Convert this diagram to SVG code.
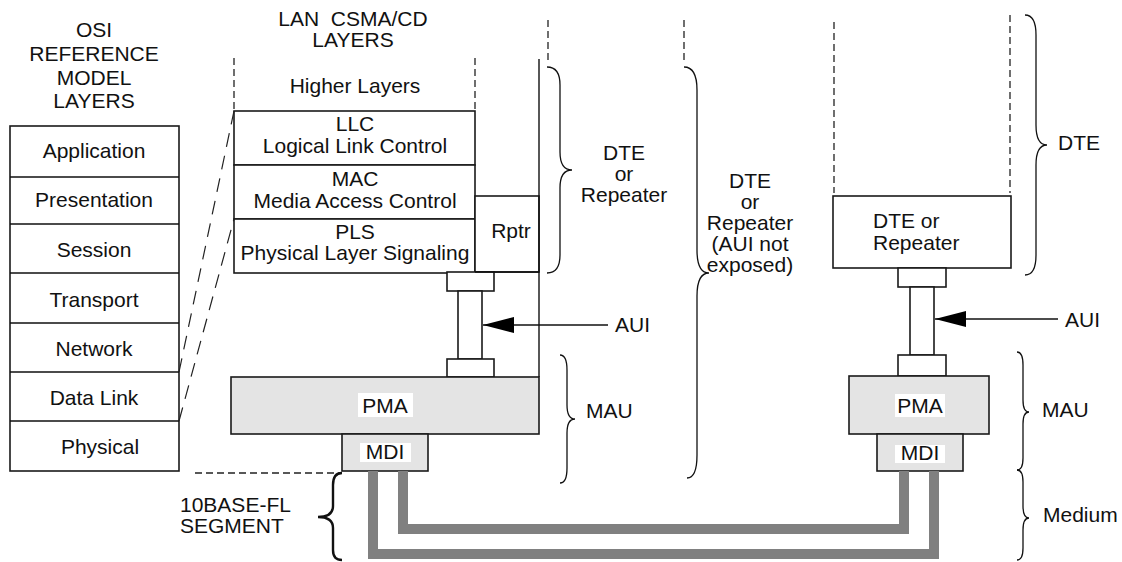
<svg xmlns="http://www.w3.org/2000/svg" width="1122" height="562" viewBox="0 0 1122 562">
<style>
text{font-family:"Liberation Sans",Arial,sans-serif;font-size:21px;fill:#111}
.c{text-anchor:middle}
.box{fill:#fff;stroke:#1a1a1a;stroke-width:1.6}
.gbox{fill:#e4e4e4;stroke:#1a1a1a;stroke-width:1.6}
.lbl{fill:#fff;stroke:none}
.dash{fill:none;stroke:#222;stroke-width:1.3;stroke-dasharray:7 4}
.slant{fill:none;stroke:#222;stroke-width:1.2;stroke-dasharray:14 9}
.brace{fill:none;stroke:#111;stroke-width:1.3}
.line{fill:none;stroke:#111;stroke-width:1.4}
.fiber{fill:none;stroke:#808080;stroke-width:10}
</style>
<defs>
<marker id="arr" markerWidth="32" markerHeight="18" refX="31" refY="9" orient="auto" markerUnits="userSpaceOnUse">
<path d="M0,1 L31,9 L0,17 Z" fill="#000"/>
</marker>
</defs>

<g id="osi-header">
<text class="c" x="94" y="37">OSI</text>
<text class="c" x="94" y="61">REFERENCE</text>
<text class="c" x="94" y="85">MODEL</text>
<text class="c" x="94" y="108">LAYERS</text>
</g>
<g id="osi-stack">
<rect class="box" x="10" y="126" width="169" height="345"/>
<path class="line" d="M10 177H179M10 224H179M10 273H179M10 323H179M10 372H179M10 421H179"/>
<text class="c" x="94" y="158">Application</text>
<text class="c" x="94" y="207">Presentation</text>
<text class="c" x="94" y="257">Session</text>
<text class="c" x="94" y="307">Transport</text>
<text class="c" x="94" y="356">Network</text>
<text class="c" x="94" y="405">Data Link</text>
<text class="c" x="100" y="454">Physical</text>
</g>

<g id="lan-header">
<text class="c" x="353" y="26" xml:space="preserve">LAN  CSMA/CD</text>
<text class="c" x="353" y="47">LAYERS</text>
<text class="c" x="355" y="93">Higher Layers</text>
</g>
<g id="llc">
<rect class="box" x="234" y="111" width="241" height="54"/>
<text class="c" x="355" y="131">LLC</text>
<text class="c" x="355" y="153">Logical Link Control</text>
</g>
<g id="mac">
<rect class="box" x="234" y="165" width="241" height="54"/>
<text class="c" x="355" y="186">MAC</text>
<text class="c" x="355" y="208">Media Access Control</text>
</g>
<g id="pls">
<rect class="box" x="234" y="219" width="241" height="54"/>
<text class="c" x="355" y="239">PLS</text>
<text class="c" x="355" y="260">Physical Layer Signaling</text>
</g>
<g id="rptr">
<rect class="box" x="475" y="196" width="64" height="76"/>
<text class="c" x="511" y="238">Rptr</text>
</g>
<g id="aui-left">
<rect class="box" x="447" y="272" width="47" height="19"/>
<rect class="box" x="458" y="291" width="24" height="68"/>
<rect class="box" x="447" y="359" width="47" height="18"/>
</g>
<g id="pma-left">
<rect class="gbox" x="231" y="377" width="308" height="57"/>
<rect class="lbl" x="358" y="393" width="55" height="24"/>
<text class="c" x="385" y="413">PMA</text>
</g>
<g id="mdi-left">
<rect class="gbox" x="342" y="434" width="86" height="37"/>
<rect class="lbl" x="360" y="443" width="51" height="19"/>
<text class="c" x="385" y="459">MDI</text>
</g>

<g id="dte-right">
<rect class="box" x="833" y="196" width="178" height="72"/>
<text x="873" y="228">DTE or</text>
<text x="873" y="250">Repeater</text>
</g>
<g id="aui-right">
<rect class="box" x="898" y="268" width="48" height="19"/>
<rect class="box" x="910" y="287" width="24" height="68"/>
<rect class="box" x="898" y="355" width="48" height="21"/>
</g>
<g id="pma-right">
<rect class="gbox" x="849" y="376" width="140" height="58"/>
<rect class="lbl" x="895" y="394" width="50" height="23"/>
<text class="c" x="920" y="413">PMA</text>
</g>
<g id="mdi-right">
<rect class="gbox" x="877" y="434" width="86" height="37"/>
<rect class="lbl" x="895" y="445" width="50" height="18"/>
<text class="c" x="920" y="460">MDI</text>
</g>

<g id="connectors">
<path class="dash" d="M234 58V110M475 58V112M548 20V62M684 20V62M834 22V193M1010 15V193"/>
<path class="slant" d="M179 372L234 111M179 421L234 219"/>
<path class="line" d="M539 59V377M475 272H539"/>
<path class="dash" d="M195 473H340"/>
<path class="fiber" d="M403 471V529H904V471"/>
<path class="fiber" d="M373 471V554H934V471"/>
<path class="line" d="M608 325H483" marker-end="url(#arr)"/>
<path class="line" d="M1058 319H935" marker-end="url(#arr)"/>
</g>

<g id="braces">
<path class="brace" d="M547 67Q560 67 560 85V152Q560 170 572 170Q560 170 560 188V255Q560 273 547 273"/>
<path class="brace" d="M684 67Q697 67 697 90V250Q697 273 709 273Q697 273 697 296V455Q697 478 687 478"/>
<path class="brace" d="M560 355Q567 355 567 370V405Q567 419 575 419Q567 419 567 433V468Q567 483 560 483"/>
<path class="brace" d="M1025 15Q1036 15 1036 35V125Q1036 145 1047 145Q1036 145 1036 165V255Q1036 275 1025 275"/>
<path class="brace" d="M1017 352Q1023 352 1023 365V400Q1023 412 1029 412Q1023 412 1023 424V458Q1023 470 1017 470"/>
<path class="brace" d="M1017 470Q1023 470 1023 482V506Q1023 518 1029 518Q1023 518 1023 530V548Q1023 560 1017 560"/>
<path class="brace" style="stroke-width:2.4" d="M342 473Q333 473 333 485V506Q333 517 318 517Q333 517 333 528V550Q333 560 342 560"/>
</g>

<g id="labels">
<text class="c" x="624" y="160">DTE</text>
<text class="c" x="624" y="181">or</text>
<text class="c" x="624" y="202">Repeater</text>
<text class="c" x="750" y="188">DTE</text>
<text class="c" x="750" y="209">or</text>
<text class="c" x="750" y="230">Repeater</text>
<text class="c" x="750" y="251">(AUI not</text>
<text class="c" x="750" y="272">exposed)</text>
<text x="586" y="418">MAU</text>
<text x="615" y="332">AUI</text>
<text x="1065" y="327">AUI</text>
<text x="1058" y="150">DTE</text>
<text x="1042" y="417">MAU</text>
<text x="1043" y="522">Medium</text>
<text x="180" y="512">10BASE-FL</text>
<text x="180" y="533">SEGMENT</text>
</g>
</svg>
